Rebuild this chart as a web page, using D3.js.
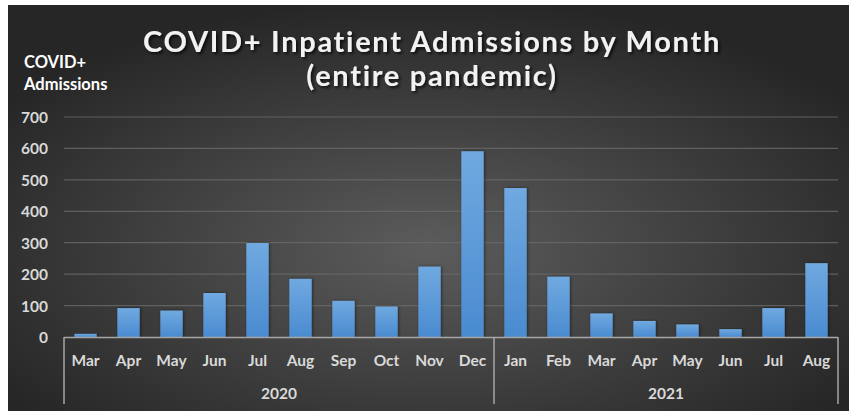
<!DOCTYPE html>
<html>
<head>
<meta charset="utf-8">
<script src="https://cdn.jsdelivr.net/npm/d3@7"></script>
<style>
  html, body { margin: 0; padding: 0; background: #ffffff; }
  svg { display: block; }
</style>
</head>
<body>
<svg id="chart" width="849" height="411"></svg>
<script>
const months = ["Mar","Apr","May","Jun","Jul","Aug","Sep","Oct","Nov","Dec","Jan","Feb","Mar","Apr","May","Jun","Jul","Aug"];
const years = ["2020","2020","2020","2020","2020","2020","2020","2020","2020","2020","2021","2021","2021","2021","2021","2021","2021","2021"];
const admissions = [10, 92, 84, 140, 299, 185, 115, 97, 224, 591, 474, 192, 75, 51, 40, 25, 92, 235];
const yTicks = [0, 100, 200, 300, 400, 500, 600, 700];
const titleLines = ["COVID+ Inpatient Admissions by Month", "(entire pandemic)"];
const yTitleLines = ["COVID+", "Admissions"];

const svg = d3.select("#chart");
const W = 849, H = 411;
const margin = { left: 64, right: 11, top: 117, bottom: 74 };
const font = "Lato, 'Open Sans', sans-serif";

const defs = svg.append("defs");
const bg = defs.append("radialGradient").attr("id", "bg")
  .attr("cx", "50%").attr("cy", "60%").attr("r", "62%");
bg.append("stop").attr("offset", "0%").attr("stop-color", "#5c5c5c");
bg.append("stop").attr("offset", "100%").attr("stop-color", "#262626");

const barGrad = defs.append("linearGradient").attr("id", "barg")
  .attr("x1", 0).attr("y1", 0).attr("x2", 0).attr("y2", 1);
barGrad.append("stop").attr("offset", "0%").attr("stop-color", "#70a9e0");
barGrad.append("stop").attr("offset", "100%").attr("stop-color", "#4a8bd0");

const shadow = defs.append("filter").attr("id", "ts")
  .attr("x", "-10%").attr("y", "-30%").attr("width", "120%").attr("height", "160%");
shadow.append("feDropShadow").attr("dx", 2).attr("dy", 2).attr("stdDeviation", 1.5)
  .attr("flood-color", "#000").attr("flood-opacity", 0.7);

const barShadow = defs.append("filter").attr("id", "bs")
  .attr("x", "-30%").attr("y", "-10%").attr("width", "160%").attr("height", "120%");
barShadow.append("feDropShadow").attr("dx", 1).attr("dy", 0).attr("stdDeviation", 1.5)
  .attr("flood-color", "#000").attr("flood-opacity", 0.5);

// background
svg.append("rect").attr("x", 8).attr("y", 5).attr("width", W - 8).attr("height", H - 5)
  .attr("fill", "url(#bg)");

const x0 = margin.left, x1 = W - margin.right;
const yBase = 337, yTop = margin.top;

const x = d3.scaleBand().domain(d3.range(months.length)).range([x0, x1]).paddingInner(0.48).paddingOuter(0.24);
const y = d3.scaleLinear().domain([0, 700]).range([yBase, yTop]);

// gridlines
svg.append("g").selectAll("line").data(yTicks.filter(d => d > 0)).join("line")
  .attr("x1", x0).attr("x2", x1)
  .attr("y1", d => y(d)).attr("y2", d => y(d))
  .attr("stroke", "#6a6a6a").attr("stroke-width", 1.2).attr("stroke-opacity", 0.8);

// y axis labels
const yAxis = d3.axisLeft(y).tickValues(yTicks).tickSize(0).tickPadding(0);
const gy = svg.append("g").attr("transform", `translate(${x0 - 16},0)`).call(yAxis);
gy.select(".domain").remove();
gy.selectAll("text").attr("font-family", font).attr("font-weight", "bold")
  .attr("font-size", 15.5).attr("fill", "#d9d9d9").attr("dy", "0.35em");

// bars
svg.append("g").selectAll("rect").data(admissions).join("rect")
  .attr("x", (d, i) => x(i)).attr("width", x.bandwidth())
  .attr("y", d => y(d)).attr("height", d => yBase - y(d))
  .attr("fill", "url(#barg)").attr("filter", "url(#bs)");

// x axis baseline
svg.append("line").attr("x1", x0).attr("x2", x1).attr("y1", yBase + 0.5).attr("y2", yBase + 0.5)
  .attr("stroke", "#a6a6a6").attr("stroke-width", 1.5);

// group separators
const cat = d3.scaleLinear().domain([0, months.length]).range([x0, x1]);
const groups = [];
years.forEach((yr, i) => {
  if (!groups.length || groups[groups.length - 1].year !== yr) groups.push({ year: yr, start: i, end: i + 1 });
  else groups[groups.length - 1].end = i + 1;
});
const seps = [0].concat(groups.map(g => g.end));
svg.append("g").selectAll("line").data(seps).join("line")
  .attr("x1", d => cat(d)).attr("x2", d => cat(d))
  .attr("y1", yBase).attr("y2", 404)
  .attr("stroke", "#a6a6a6").attr("stroke-width", 1.5);

// month labels
svg.append("g").selectAll("text").data(months).join("text")
  .attr("x", (d, i) => x(i) + x.bandwidth() / 2).attr("y", 366)
  .attr("text-anchor", "middle").attr("font-family", font).attr("font-weight", "bold")
  .attr("font-size", 15.5).attr("fill", "#d9d9d9").text(d => d);

// year labels
svg.append("g").selectAll("text").data(groups).join("text")
  .attr("x", g => (cat(g.start) + cat(g.end)) / 2).attr("y", 399)
  .attr("text-anchor", "middle").attr("font-family", font).attr("font-weight", "bold")
  .attr("font-size", 15.5).attr("fill", "#d9d9d9").text(g => g.year);

// title
svg.append("g").selectAll("text").data(titleLines).join("text")
  .attr("x", 432).attr("y", (d, i) => 52 + i * 34)
  .attr("text-anchor", "middle").attr("font-family", font).attr("font-weight", "bold")
  .attr("font-size", 29).attr("letter-spacing", 1.7).attr("fill", "#f2f2f2")
  .attr("filter", "url(#ts)").text(d => d);

// y title
svg.append("g").selectAll("text").data(yTitleLines).join("text")
  .attr("x", 24).attr("y", (d, i) => 68 + i * 22)
  .attr("font-family", font).attr("font-weight", "bold")
  .attr("font-size", 16.5).attr("fill", "#ffffff").text(d => d);
</script>
</body>
</html>
